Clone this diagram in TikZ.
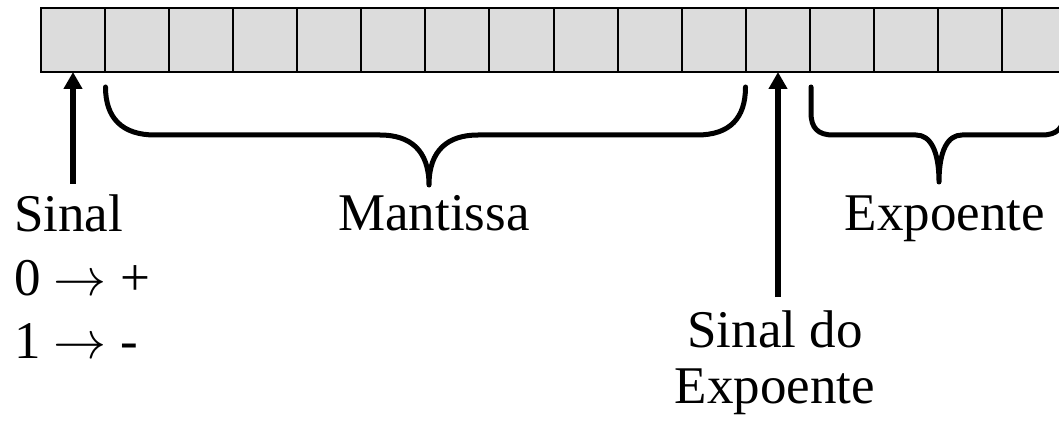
\documentclass[tikz,border=0pt]{standalone}
\usepackage{fix-cm}
\usepackage{fontspec}
\setmainfont{Liberation Serif}
\usetikzlibrary{arrows.meta}
\definecolor{cellgray}{RGB}{220,220,220}
\tikzset{
  cell/.style={draw=black, line width=2pt, fill=cellgray, minimum width=64.07pt, minimum height=64pt, inner sep=0pt, outer sep=0pt},
  lbl/.style={inner sep=0pt, font=\fontsize{53}{60}\selectfont},
  arr/.style={line width=5.5pt, -{Triangle[width=18pt,length=17pt]}},
  brace/.style={line width=5pt, line cap=round, line join=round}
}
\begin{document}
\begin{tikzpicture}[x=1pt,y=-1pt]
\useasboundingbox (0,0) rectangle (1059,422);
\clip (0,0) rectangle (1059,422);
\foreach \i in {1,...,16}{
  \node[cell] (c\i) at ({41+64.07*\i-32.035},40) {};
}
% labels
\node[lbl, anchor=base west] (sinal) at (14,231) {Sinal};
\node[lbl, anchor=base west] (zero) at (14,295) {0 $\rightarrow$ +};
\node[lbl, anchor=base west] (um) at (14,358) {1 $\rightarrow$ -};
\node[lbl, anchor=base] (mant) at (434,230) {Mantissa};
\node[lbl, anchor=base] (expo) at (945,230) {Expoente};
\node[lbl, anchor=base] (sdo) at (775,347) {Sinal do};
\node[lbl, anchor=base] (sexp) at (775,403) {Expoente};
% arrows
\coordinate (a1) at (73,184);
\coordinate (a2) at (778,297);
\draw[arr] (a1) -- (a1 |- c1.south);
\draw[arr] (a2) -- (a2 |- c12.south);
% mantissa brace
\draw[brace] (105.5,87) .. controls (105.5,118) and (122,135) .. (155,135) -- (380,135)
  .. controls (410,135) and (429,150) .. (429,185)
  .. controls (429,150) and (448,135) .. (478,135) -- (697,135)
  .. controls (730,135) and (745.5,118) .. (745.5,87);
% exponent brace
\draw[brace] (811,87) -- (811,113) .. controls (811,128) and (818,135) .. (833,135) -- (916,135)
  .. controls (930,135) and (939,150) .. (939,182)
  .. controls (939,150) and (948,135) .. (962,135) -- (1042,135)
  .. controls (1057,135) and (1064,128) .. (1064,113) -- (1064,87);
\end{tikzpicture}
\end{document}
